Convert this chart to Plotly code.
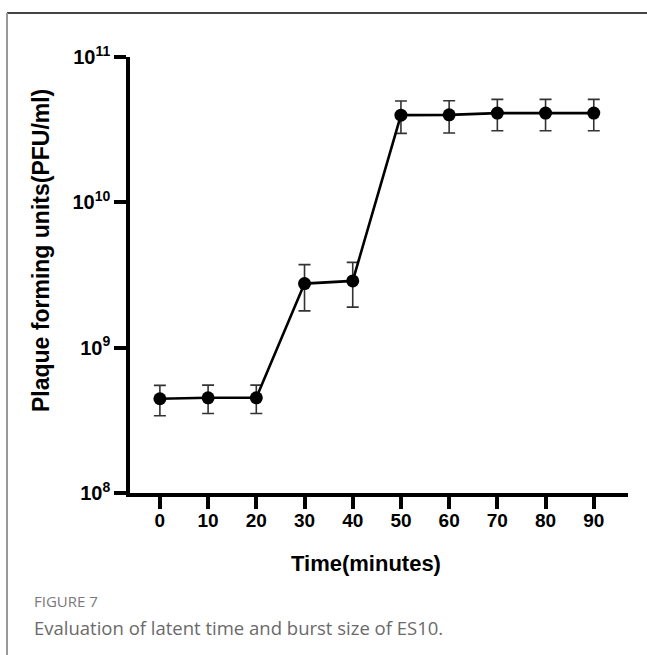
import plotly.graph_objects as go

# One-step growth curve of phage ES10
time_min = [0, 10, 20, 30, 40, 50, 60, 70, 80, 90]
pfu_mean = [4.45e8, 4.52e8, 4.52e8, 2.76e9, 2.88e9, 3.98e10, 4.0e10, 4.11e10, 4.11e10, 4.11e10]
pfu_err = [1.05e8, 1.0e8, 1.0e8, 9.7e8, 9.8e8, 1.0e10, 1.0e10, 1.0e10, 1.0e10, 1.0e10]

x_ticks = [0, 10, 20, 30, 40, 50, 60, 70, 80, 90]
y_ticks = [1e8, 1e9, 1e10, 1e11]
y_ticktext = ["10<sup>8</sup>", "10<sup>9</sup>", "10<sup>10</sup>", "10<sup>11</sup>"]

W, H = 647, 655
AX_FONT = "Liberation Sans, Arial, sans-serif"


def px_x(p):
    return p / W


def px_y(p):
    return 1 - p / H


fig = go.Figure()
fig.add_trace(go.Scatter(
    x=time_min, y=pfu_mean,
    mode="lines+markers",
    line=dict(color="black", width=2.6),
    marker=dict(color="black", size=13),
    error_y=dict(type="data", array=pfu_err, visible=True,
                 color="#333333", thickness=1.6, width=6),
    showlegend=False,
))

fig.update_layout(
    width=W, height=H,
    margin=dict(l=0, r=0, t=0, b=0, autoexpand=False),
    paper_bgcolor="white", plot_bgcolor="white",
    xaxis=dict(
        domain=[px_x(130), px_x(628)],
        range=[-6.2, 97.1],
        tickvals=x_ticks, ticktext=[str(t) for t in x_ticks],
        ticks="outside", ticklen=12, tickwidth=3.5, tickcolor="black",
        ticklabelstandoff=-5,
        showline=True, linewidth=3.5, linecolor="black",
        showgrid=False, zeroline=False, automargin=False,
        tickfont=dict(family=AX_FONT, size=19, color="black", weight="bold"),
    ),
    yaxis=dict(
        domain=[px_y(493), px_y(57)],
        type="log", range=[8, 11],
        tickvals=y_ticks, ticktext=y_ticktext,
        ticks="outside", ticklen=12, tickwidth=3.5, tickcolor="black",
        showline=True, linewidth=3.5, linecolor="black",
        showgrid=False, zeroline=False, automargin=False,
        tickfont=dict(family=AX_FONT, size=20, color="black", weight="bold"),
    ),
)

# axis titles
fig.add_annotation(
    text="<b>Time(minutes)</b>", xref="paper", yref="paper",
    x=px_x(366), y=px_y(563), xanchor="center", yanchor="middle", showarrow=False,
    font=dict(family=AX_FONT, size=22, color="black"),
)
fig.add_annotation(
    text="<b>Plaque forming units(PFU/ml)</b>", xref="paper", yref="paper",
    x=px_x(41), y=px_y(251), xanchor="center", yanchor="middle", showarrow=False,
    textangle=-90,
    font=dict(family=AX_FONT, size=23, color="black"),
)

# caption
CAP_FONT = "Open Sans, Lato, sans-serif"
fig.add_annotation(
    text="FIGURE 7", xref="paper", yref="paper",
    x=px_x(32), y=px_y(601), xanchor="left", yanchor="middle", showarrow=False,
    font=dict(family=CAP_FONT, size=15, color="#7a7a7a"),
)
fig.add_annotation(
    text="Evaluation of latent time and burst size of ES10.", xref="paper", yref="paper",
    x=px_x(32), y=px_y(627), xanchor="left", yanchor="middle", showarrow=False,
    font=dict(family=CAP_FONT, size=18.5, color="#6a6a6a"),
)

# frame lines around the figure panel
fig.add_shape(type="line", xref="paper", yref="paper",
              x0=px_x(7), x1=1, y0=px_y(13), y1=px_y(13),
              line=dict(color="#444444", width=2))
fig.add_shape(type="line", xref="paper", yref="paper",
              x0=px_x(7), x1=px_x(7), y0=0, y1=px_y(13),
              line=dict(color="#999999", width=2))

fig.write_html("out.html")
